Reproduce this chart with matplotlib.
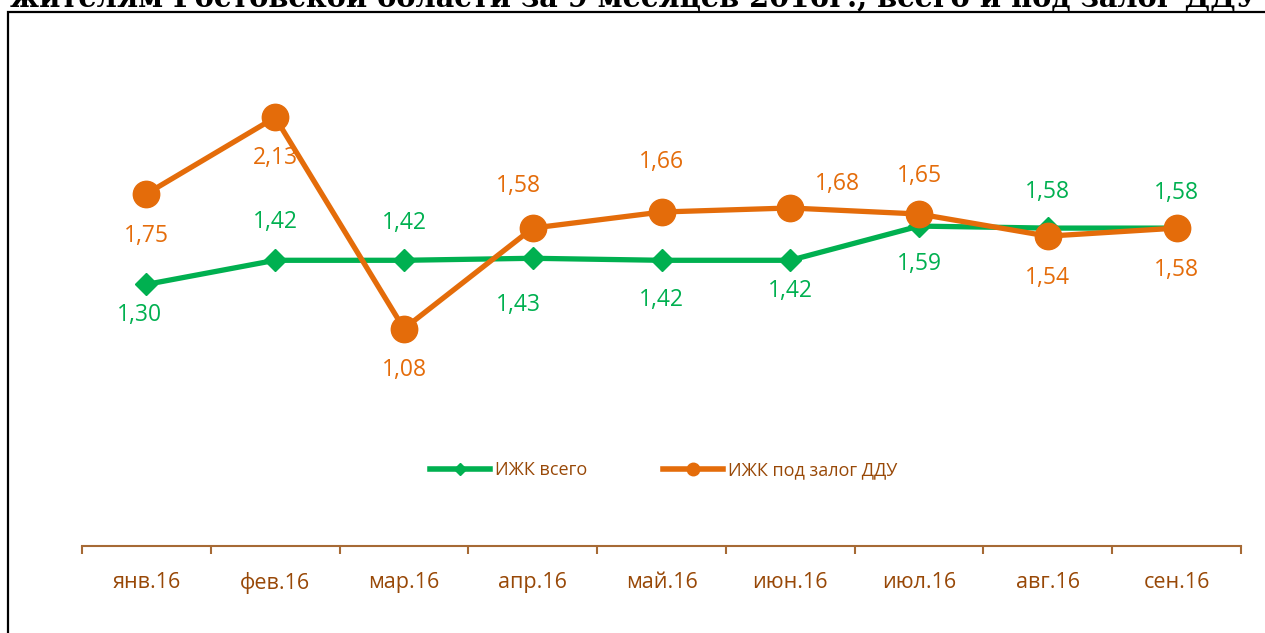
import matplotlib
matplotlib.use("Agg")
import matplotlib.pyplot as plt
from matplotlib.lines import Line2D
from matplotlib.patches import Rectangle

plt.rcParams['font.family'] = ['Open Sans', 'DejaVu Sans']

# data
months = ["янв.16", "фев.16", "мар.16", "апр.16", "май.16",
          "июн.16", "июл.16", "авг.16", "сен.16"]
izhk_total = [1.30, 1.42, 1.42, 1.43, 1.42, 1.42, 1.59, 1.58, 1.58]
izhk_ddu = [1.75, 2.13, 1.08, 1.58, 1.66, 1.68, 1.65, 1.54, 1.58]
title = "жителям Ростовской области за 9 месяцев 2016г., всего и под залог ДДУ"

# label offsets in pixels (dx, dy), dy positive = up
total_offsets = [(-7, -31), (0, 38), (0, 37), (-14, -47), (0, -40),
                 (0, -31), (0, -38), (0, 36), (0, 35)]
ddu_offsets = [(0, -42), (0, -41), (0, -41), (-14, 42), (0, 50),
               (47, 24), (0, 38), (0, -42), (0, -42)]

GREEN = "#00B050"
ORANGE = "#E46C0A"
BROWN = "#984807"
AXIS = "#A66A35"

W, H = 1265, 633
fig = plt.figure(figsize=(W / 100, H / 100), dpi=100)

# title, cut off at the top as in the original
fig.text(10 / W, 1 - 7 / H, title, family="DejaVu Serif",
         fontweight="bold", fontsize=20.7, ha="left", va="baseline",
         color="black")

# black frame around chart area (runs off right and bottom)
fig.patches.append(Rectangle((8 / W, -0.1), 1.2, 1.1 - 12 / H,
                             transform=fig.transFigure, fill=False,
                             edgecolor="black", linewidth=1.6))

ax = fig.add_axes([82 / W, 1 - 546 / H, 1159 / W, (546 - 43) / H])
x = list(range(len(months)))

ax.plot(x, izhk_total, color=GREEN, linewidth=3.8, marker="D",
        markersize=11, zorder=3)
ax.plot(x, izhk_ddu, color=ORANGE, linewidth=3.8, marker="o",
        markersize=19, zorder=4)

for i in x:
    dx, dy = total_offsets[i]
    ax.annotate(f"{izhk_total[i]:.2f}".replace(".", ","), (i, izhk_total[i]),
                xytext=(dx * 0.72, dy * 0.72), textcoords="offset points",
                ha="center", va="center", color=GREEN, fontsize=16.5)
    dx, dy = ddu_offsets[i]
    ax.annotate(f"{izhk_ddu[i]:.2f}".replace(".", ","), (i, izhk_ddu[i]),
                xytext=(dx * 0.72, dy * 0.72), textcoords="offset points",
                ha="center", va="center", color=ORANGE, fontsize=16.5)

ax.set_xlim(-0.5, len(months) - 0.5)
ax.set_ylim(0, 2.5)
ax.set_yticks([])
for s in ["top", "right", "left"]:
    ax.spines[s].set_visible(False)
ax.spines["bottom"].set_color(AXIS)
ax.spines["bottom"].set_linewidth(1.5)

ax.set_xticks(x)
ax.set_xticklabels(months)
ax.set_xticks([i - 0.5 for i in range(len(months) + 1)], minor=True)
ax.tick_params(axis="x", which="major", length=0, pad=19, labelsize=15.5,
               labelcolor=BROWN)
ax.tick_params(axis="x", which="minor", length=6, width=1.5, color=AXIS,
               direction="out")

handles = [
    Line2D([], [], color=GREEN, linewidth=4, marker="D", markersize=6),
    Line2D([], [], color=ORANGE, linewidth=4, marker="o", markersize=9),
]
fig.legend(handles, ["ИЖК всего", "ИЖК под залог ДДУ"], loc="center",
           bbox_to_anchor=(664 / W, 1 - 470 / H), ncol=2, frameon=False,
           fontsize=13, labelcolor=BROWN, handlelength=3.3, handletextpad=0.3,
           columnspacing=4.2)

fig.savefig("out.png", dpi=100)
